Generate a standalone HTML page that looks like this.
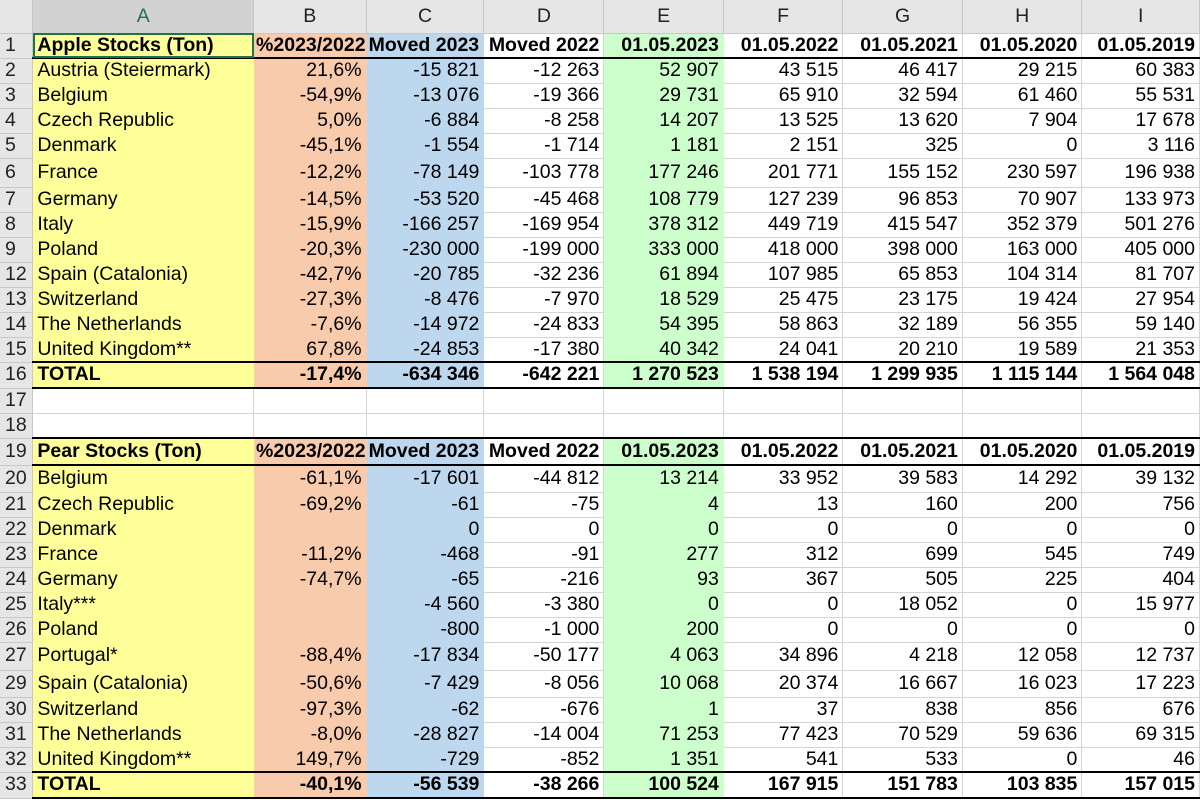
<!DOCTYPE html>
<html><head><meta charset="utf-8"><style>
body{margin:0;width:1200px;height:800px;overflow:hidden;background:#fff;font-family:"Liberation Sans",Arial,sans-serif;}
table{border-collapse:collapse;table-layout:fixed;position:absolute;left:0;top:0;}
td{padding:0 4px;font-size:19.5px;white-space:nowrap;overflow:hidden;border-right:1px solid #d4d4d4;border-bottom:1px solid #d4d4d4;text-align:right;color:#000;line-height:1;}
tr.h td{background:#e6e6e6;text-align:center;color:#222;font-size:19.5px;border-color:#c8c8c8;}
td.r{background:#e6e6e6;text-align:left;color:#222;padding-left:5px;border-color:#c8c8c8;}
td.a{background:#ffff99;text-align:left;border-color:#ffff99;}
td.b{background:#f8cbad;border-color:#f8cbad;}
td.c{background:#bdd7ee;border-color:#bdd7ee;}
td.e{background:#ccffcc;border-color:#ccffcc;}
tr.bb td{border-bottom:2px solid #000;}
tr.bb td.r{border-bottom:1px solid #c8c8c8;}
tr.bold td{font-weight:bold;}
tr.bold td.r{font-weight:normal;}
td.l{text-align:left;padding-left:2px;padding-right:0;text-overflow:clip;}
</style></head><body>
<table>
<colgroup><col style="width:33px"><col style="width:222px"><col style="width:109px"><col style="width:118px"><col style="width:120px"><col style="width:120px"><col style="width:120px"><col style="width:120px"><col style="width:120px"><col style="width:118px"></colgroup>
<tr class="h" style="height:33px"><td style="background:#e6e6e6"></td><td style="background:#d2d2d2;color:#217346">A</td><td>B</td><td>C</td><td>D</td><td>E</td><td>F</td><td>G</td><td>H</td><td>I</td></tr>
<tr class="bb bold" style="height:25px"><td class="r">1</td><td class="a" style="outline:2px solid #217346;outline-offset:-2px">Apple Stocks (Ton)</td><td class="b l">%2023/2022</td><td class="c l">Moved 2023</td><td>Moved 2022</td><td class="e">01.05.2023</td><td>01.05.2022</td><td>01.05.2021</td><td>01.05.2020</td><td>01.05.2019</td></tr>
<tr style="height:25px"><td class="r">2</td><td class="a">Austria (Steiermark)</td><td class="b">21,6%</td><td class="c">-15 821</td><td>-12 263</td><td class="e">52 907</td><td>43 515</td><td>46 417</td><td>29 215</td><td>60 383</td></tr>
<tr style="height:25px"><td class="r">3</td><td class="a">Belgium</td><td class="b">-54,9%</td><td class="c">-13 076</td><td>-19 366</td><td class="e">29 731</td><td>65 910</td><td>32 594</td><td>61 460</td><td>55 531</td></tr>
<tr style="height:25px"><td class="r">4</td><td class="a">Czech Republic</td><td class="b">5,0%</td><td class="c">-6 884</td><td>-8 258</td><td class="e">14 207</td><td>13 525</td><td>13 620</td><td>7 904</td><td>17 678</td></tr>
<tr style="height:25px"><td class="r">5</td><td class="a">Denmark</td><td class="b">-45,1%</td><td class="c">-1 554</td><td>-1 714</td><td class="e">1 181</td><td>2 151</td><td>325</td><td>0</td><td>3 116</td></tr>
<tr style="height:29px"><td class="r">6</td><td class="a">France</td><td class="b">-12,2%</td><td class="c">-78 149</td><td>-103 778</td><td class="e">177 246</td><td>201 771</td><td>155 152</td><td>230 597</td><td>196 938</td></tr>
<tr style="height:25px"><td class="r">7</td><td class="a">Germany</td><td class="b">-14,5%</td><td class="c">-53 520</td><td>-45 468</td><td class="e">108 779</td><td>127 239</td><td>96 853</td><td>70 907</td><td>133 973</td></tr>
<tr style="height:25px"><td class="r">8</td><td class="a">Italy</td><td class="b">-15,9%</td><td class="c">-166 257</td><td>-169 954</td><td class="e">378 312</td><td>449 719</td><td>415 547</td><td>352 379</td><td>501 276</td></tr>
<tr style="height:25px"><td class="r">9</td><td class="a">Poland</td><td class="b">-20,3%</td><td class="c">-230 000</td><td>-199 000</td><td class="e">333 000</td><td>418 000</td><td>398 000</td><td>163 000</td><td>405 000</td></tr>
<tr style="height:25px"><td class="r">12</td><td class="a">Spain (Catalonia)</td><td class="b">-42,7%</td><td class="c">-20 785</td><td>-32 236</td><td class="e">61 894</td><td>107 985</td><td>65 853</td><td>104 314</td><td>81 707</td></tr>
<tr style="height:25px"><td class="r">13</td><td class="a">Switzerland</td><td class="b">-27,3%</td><td class="c">-8 476</td><td>-7 970</td><td class="e">18 529</td><td>25 475</td><td>23 175</td><td>19 424</td><td>27 954</td></tr>
<tr style="height:25px"><td class="r">14</td><td class="a">The Netherlands</td><td class="b">-7,6%</td><td class="c">-14 972</td><td>-24 833</td><td class="e">54 395</td><td>58 863</td><td>32 189</td><td>56 355</td><td>59 140</td></tr>
<tr class="bb" style="height:25px"><td class="r">15</td><td class="a">United Kingdom**</td><td class="b">67,8%</td><td class="c">-24 853</td><td>-17 380</td><td class="e">40 342</td><td>24 041</td><td>20 210</td><td>19 589</td><td>21 353</td></tr>
<tr class="bb bold" style="height:26px"><td class="r">16</td><td class="a">TOTAL</td><td class="b">-17,4%</td><td class="c">-634 346</td><td>-642 221</td><td class="e">1 270 523</td><td>1 538 194</td><td>1 299 935</td><td>1 115 144</td><td>1 564 048</td></tr>
<tr style="height:25px"><td class="r">17</td><td></td><td></td><td></td><td></td><td></td><td></td><td></td><td></td><td></td></tr>
<tr class="bb" style="height:25px"><td class="r">18</td><td></td><td></td><td></td><td></td><td></td><td></td><td></td><td></td><td></td></tr>
<tr class="bb bold" style="height:27px"><td class="r">19</td><td class="a">Pear Stocks (Ton)</td><td class="b l">%2023/2022</td><td class="c l">Moved 2023</td><td>Moved 2022</td><td class="e">01.05.2023</td><td>01.05.2022</td><td>01.05.2021</td><td>01.05.2020</td><td>01.05.2019</td></tr>
<tr style="height:27px"><td class="r">20</td><td class="a">Belgium</td><td class="b">-61,1%</td><td class="c">-17 601</td><td>-44 812</td><td class="e">13 214</td><td>33 952</td><td>39 583</td><td>14 292</td><td>39 132</td></tr>
<tr style="height:25px"><td class="r">21</td><td class="a">Czech Republic</td><td class="b">-69,2%</td><td class="c">-61</td><td>-75</td><td class="e">4</td><td>13</td><td>160</td><td>200</td><td>756</td></tr>
<tr style="height:25px"><td class="r">22</td><td class="a">Denmark</td><td class="b"></td><td class="c">0</td><td>0</td><td class="e">0</td><td>0</td><td>0</td><td>0</td><td>0</td></tr>
<tr style="height:25px"><td class="r">23</td><td class="a">France</td><td class="b">-11,2%</td><td class="c">-468</td><td>-91</td><td class="e">277</td><td>312</td><td>699</td><td>545</td><td>749</td></tr>
<tr style="height:25px"><td class="r">24</td><td class="a">Germany</td><td class="b">-74,7%</td><td class="c">-65</td><td>-216</td><td class="e">93</td><td>367</td><td>505</td><td>225</td><td>404</td></tr>
<tr style="height:25px"><td class="r">25</td><td class="a">Italy***</td><td class="b"></td><td class="c">-4 560</td><td>-3 380</td><td class="e">0</td><td>0</td><td>18 052</td><td>0</td><td>15 977</td></tr>
<tr style="height:25px"><td class="r">26</td><td class="a">Poland</td><td class="b"></td><td class="c">-800</td><td>-1 000</td><td class="e">200</td><td>0</td><td>0</td><td>0</td><td>0</td></tr>
<tr style="height:28px"><td class="r">27</td><td class="a">Portugal*</td><td class="b">-88,4%</td><td class="c">-17 834</td><td>-50 177</td><td class="e">4 063</td><td>34 896</td><td>4 218</td><td>12 058</td><td>12 737</td></tr>
<tr style="height:27px"><td class="r">29</td><td class="a">Spain (Catalonia)</td><td class="b">-50,6%</td><td class="c">-7 429</td><td>-8 056</td><td class="e">10 068</td><td>20 374</td><td>16 667</td><td>16 023</td><td>17 223</td></tr>
<tr style="height:25px"><td class="r">30</td><td class="a">Switzerland</td><td class="b">-97,3%</td><td class="c">-62</td><td>-676</td><td class="e">1</td><td>37</td><td>838</td><td>856</td><td>676</td></tr>
<tr style="height:25px"><td class="r">31</td><td class="a">The Netherlands</td><td class="b">-8,0%</td><td class="c">-28 827</td><td>-14 004</td><td class="e">71 253</td><td>77 423</td><td>70 529</td><td>59 636</td><td>69 315</td></tr>
<tr class="bb" style="height:25px"><td class="r">32</td><td class="a">United Kingdom**</td><td class="b">149,7%</td><td class="c">-729</td><td>-852</td><td class="e">1 351</td><td>541</td><td>533</td><td>0</td><td>46</td></tr>
<tr class="bb bold" style="height:26px"><td class="r">33</td><td class="a">TOTAL</td><td class="b">-40,1%</td><td class="c">-56 539</td><td>-38 266</td><td class="e">100 524</td><td>167 915</td><td>151 783</td><td>103 835</td><td>157 015</td></tr>
</table>
</body></html>
